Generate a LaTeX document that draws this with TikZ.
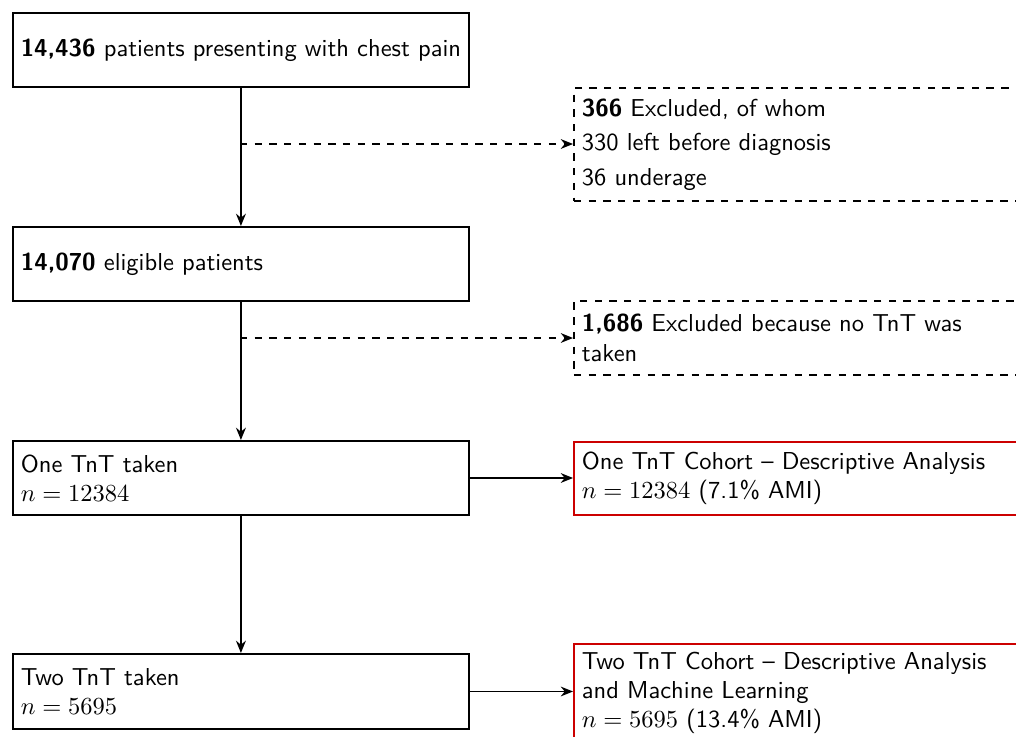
\documentclass[tikz,border=0pt]{standalone}
\usepackage{tikz}
\usetikzlibrary{arrows.meta}
\renewcommand{\familydefault}{\sfdefault}
\definecolor{cohortred}{RGB}{204,0,0}

\begin{document}
\begin{tikzpicture}[x=0.408pt,y=-0.408pt,
		stage/.style={draw, thick, rectangle, anchor=north west, minimum width=186pt, text width=179.6pt, inner sep=3.2pt, align=left},
		excluded/.style={draw, thick, dashed, rectangle, anchor=north west, minimum width=194.6pt, text width=188.2pt, inner sep=3.2pt, align=left},
		cohort/.style={draw=cohortred, thick, rectangle, anchor=north west, minimum width=194.6pt, text width=188.2pt, inner sep=3.2pt, align=left},
		flow/.style={-{Stealth[length=5pt,width=4pt]}, thick},
		side/.style={-{Stealth[length=5pt,width=4pt]}, semithick}]
		\useasboundingbox (0,0) rectangle (1016,736);
		\clip (0,0) rectangle (1016,736);
		% main column
		\node[stage, minimum height=30.2pt, text width=182pt, inner xsep=2pt, align=center] (pain) at (12,12) {\textbf{14,436} patients presenting with chest pain};
		\node[stage, minimum height=30.2pt] (eligible) at (12,226) {\textbf{14,070} eligible patients};
		\node[stage, minimum height=30.2pt] (onetnt) at (12,440) {One TnT taken\\$n=12384$};
		\node[stage, minimum height=30.6pt] (twotnt) at (12,653) {Two TnT taken\\$n=5695$};
		% exclusions
		\node[excluded, minimum height=46.1pt] (excl1) at (573,87) {\textbf{366} Excluded, of whom\\[2pt]330 left before diagnosis\\[2pt]36 underage};
		\node[excluded, minimum height=30.2pt] (excl2) at (573,300) {\textbf{1,686} Excluded because no TnT was\\taken};
		% cohorts
		\node[cohort, minimum height=29.8pt] (onecohort) at (573,441) {One TnT Cohort -- Descriptive Analysis\\$n=12384$ (7.1\% AMI)};
		\node[cohort, minimum height=38.8pt] (twocohort) at (573,643) {Two TnT Cohort -- Descriptive Analysis\\and Machine Learning\\$n=5695$ (13.4\% AMI)};
		\coordinate (split1) at (240,144);
		\coordinate (split2) at (240,338);
		\draw[flow] (pain) -- (eligible);
		\draw[flow] (eligible) -- (onetnt);
		\draw[flow] (onetnt) -- (twotnt);
		\draw[side, dashed] (split1) -- (split1 -| excl1.west);
		\draw[side, dashed] (split2) -- (split2 -| excl2.west);
		\draw[side] (onetnt.east) -- (onetnt.east -| onecohort.west);
		\draw[side] (twotnt.east) -- (twotnt.east -| twocohort.west);
	\end{tikzpicture}
\end{document}
